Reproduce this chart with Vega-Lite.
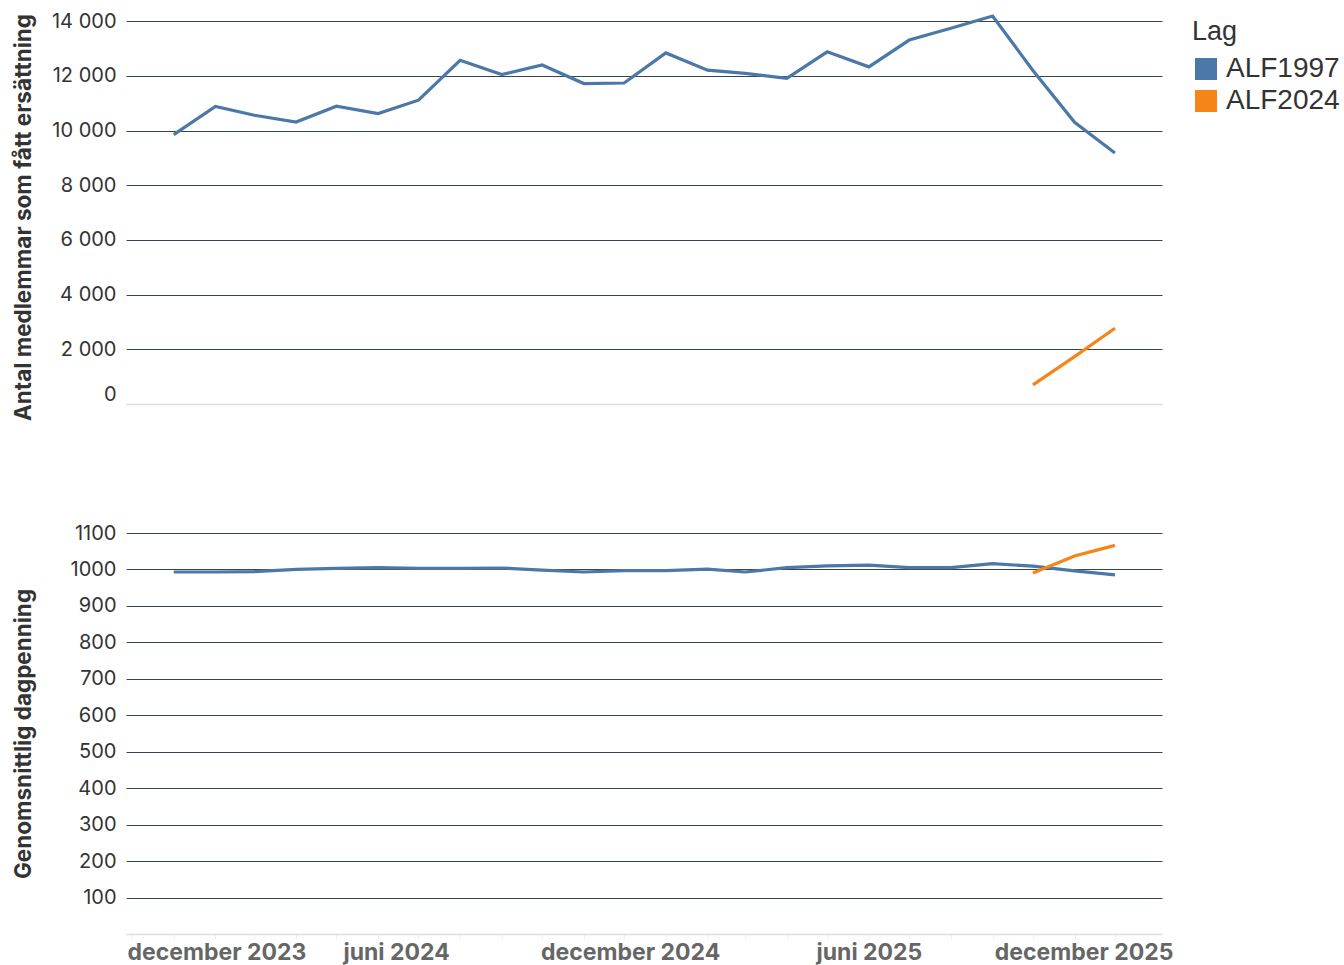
{
  "$schema": "https://vega.github.io/schema/vega-lite/v6.json",
  "background": "white",
  "padding": {"left": 12, "top": 9, "right": 4, "bottom": 3},
  "spacing": 102,
  "data": {
    "values": [
      {"month": "2024-01-01T00:00:00", "lag": "ALF1997", "antal": 9850, "dagpenning": 993},
      {"month": "2024-02-01T00:00:00", "lag": "ALF1997", "antal": 10880, "dagpenning": 993},
      {"month": "2024-03-01T00:00:00", "lag": "ALF1997", "antal": 10560, "dagpenning": 994},
      {"month": "2024-04-01T00:00:00", "lag": "ALF1997", "antal": 10310, "dagpenning": 1000},
      {"month": "2024-05-01T00:00:00", "lag": "ALF1997", "antal": 10890, "dagpenning": 1003},
      {"month": "2024-06-01T00:00:00", "lag": "ALF1997", "antal": 10620, "dagpenning": 1005},
      {"month": "2024-07-01T00:00:00", "lag": "ALF1997", "antal": 11110, "dagpenning": 1003},
      {"month": "2024-08-01T00:00:00", "lag": "ALF1997", "antal": 12570, "dagpenning": 1003},
      {"month": "2024-09-01T00:00:00", "lag": "ALF1997", "antal": 12050, "dagpenning": 1004},
      {"month": "2024-10-01T00:00:00", "lag": "ALF1997", "antal": 12400, "dagpenning": 998},
      {"month": "2024-11-01T00:00:00", "lag": "ALF1997", "antal": 11720, "dagpenning": 993},
      {"month": "2024-12-01T00:00:00", "lag": "ALF1997", "antal": 11740, "dagpenning": 997},
      {"month": "2025-01-01T00:00:00", "lag": "ALF1997", "antal": 12840, "dagpenning": 997},
      {"month": "2025-02-01T00:00:00", "lag": "ALF1997", "antal": 12210, "dagpenning": 1001},
      {"month": "2025-03-01T00:00:00", "lag": "ALF1997", "antal": 12090, "dagpenning": 993},
      {"month": "2025-04-01T00:00:00", "lag": "ALF1997", "antal": 11910, "dagpenning": 1005},
      {"month": "2025-05-01T00:00:00", "lag": "ALF1997", "antal": 12880, "dagpenning": 1010},
      {"month": "2025-06-01T00:00:00", "lag": "ALF1997", "antal": 12330, "dagpenning": 1012},
      {"month": "2025-07-01T00:00:00", "lag": "ALF1997", "antal": 13310, "dagpenning": 1005},
      {"month": "2025-08-01T00:00:00", "lag": "ALF1997", "antal": 13740, "dagpenning": 1005},
      {"month": "2025-09-01T00:00:00", "lag": "ALF1997", "antal": 14190, "dagpenning": 1016},
      {"month": "2025-10-01T00:00:00", "lag": "ALF1997", "antal": 12200, "dagpenning": 1009},
      {"month": "2025-11-01T00:00:00", "lag": "ALF1997", "antal": 10300, "dagpenning": 996},
      {"month": "2025-12-01T00:00:00", "lag": "ALF1997", "antal": 9180, "dagpenning": 985},
      {"month": "2025-10-01T00:00:00", "lag": "ALF2024", "antal": 700, "dagpenning": 990},
      {"month": "2025-11-01T00:00:00", "lag": "ALF2024", "antal": 1730, "dagpenning": 1037},
      {"month": "2025-12-01T00:00:00", "lag": "ALF2024", "antal": 2770, "dagpenning": 1066}
    ]
  },
  "config": {
    "locale": {"number": {"decimal": ",", "thousands": "\u00a0", "grouping": [3], "currency": ["", " kr"]}},
    "view": {"stroke": null},
    "axis": {"labelFont": "Inter", "titleFont": "Inter"},
    "axisY": {
      "labelFontSize": 20, "labelColor": "#333333", "labelPadding": 10,
      "titleFontSize": 22.5, "titleFontWeight": "bold", "titleColor": "#333333",
      "ticks": false, "domain": false, "minExtent": 70, "maxExtent": 70, "titlePadding": 21,
      "gridWidth": 1
    },
    "legend": {
      "titleFont": "Liberation Sans", "titleFontSize": 27, "titleFontWeight": "normal", "titleColor": "#333333",
      "labelFont": "Liberation Sans", "labelFontSize": 28, "labelColor": "#333333",
      "symbolType": "square", "symbolSize": 484, "symbolStrokeWidth": 0,
      "rowPadding": 4, "offset": 16, "padding": 3, "titlePadding": 9, "labelOffset": 6
    }
  },
  "vconcat": [
    {
      "width": 1036,
      "height": 388,
      "mark": {"type": "line", "strokeWidth": 3.2},
      "encoding": {
        "x": {
          "field": "month", "type": "temporal",
          "scale": {"domain": [{"year": 2023, "month": 11, "date": 26, "hours": 12}, {"year": 2026, "month": 1, "date": 5}], "nice": false},
          "axis": {"title": null, "labels": false, "ticks": false, "grid": false, "domain": true, "domainColor": "#dddddd", "domainWidth": 1.5}
        },
        "y": {
          "field": "antal", "type": "quantitative",
          "scale": {"zero": true, "nice": false},
          "axis": {
            "title": "Antal medlemmar som fått ersättning",
            "titleY": 201,
            "values": [0, 2000, 4000, 6000, 8000, 10000, 12000, 14000],
            "format": ",d",
            "labelFlush": true,
            "gridColor": {"condition": {"test": "datum.value === 0", "value": "#dddddd"}, "value": "#37444c"}
          }
        },
        "color": {
          "field": "lag", "type": "nominal", "title": "Lag",
          "scale": {"domain": ["ALF1997", "ALF2024"], "range": ["#4c78a8", "#f58518"]},
          "legend": {"encode": {"symbols": {"update": {"fill": {"scale": "color", "field": "value"}, "fillOpacity": {"value": 1}, "strokeWidth": {"value": 0}}}}}
        }
      }
    },
    {
      "width": 1036,
      "height": 401,
      "mark": {"type": "line", "strokeWidth": 3.2},
      "encoding": {
        "x": {
          "field": "month", "type": "temporal",
          "scale": {"domain": [{"year": 2023, "month": 11, "date": 26, "hours": 12}, {"year": 2026, "month": 1, "date": 5}], "nice": false},
          "axis": {
            "title": null,
            "values": [
              {"year": 2023, "month": 12, "date": 1},
              {"year": 2024, "month": 1, "date": 1}, {"year": 2024, "month": 2, "date": 1}, {"year": 2024, "month": 3, "date": 1},
              {"year": 2024, "month": 4, "date": 1}, {"year": 2024, "month": 5, "date": 1}, {"year": 2024, "month": 6, "date": 1},
              {"year": 2024, "month": 7, "date": 1}, {"year": 2024, "month": 8, "date": 1}, {"year": 2024, "month": 9, "date": 1},
              {"year": 2024, "month": 10, "date": 1}, {"year": 2024, "month": 11, "date": 1}, {"year": 2024, "month": 12, "date": 1},
              {"year": 2025, "month": 1, "date": 1}, {"year": 2025, "month": 2, "date": 1}, {"year": 2025, "month": 3, "date": 1},
              {"year": 2025, "month": 4, "date": 1}, {"year": 2025, "month": 5, "date": 1}, {"year": 2025, "month": 6, "date": 1},
              {"year": 2025, "month": 7, "date": 1}, {"year": 2025, "month": 8, "date": 1}, {"year": 2025, "month": 9, "date": 1},
              {"year": 2025, "month": 10, "date": 1}, {"year": 2025, "month": 11, "date": 1}, {"year": 2025, "month": 12, "date": 1}
            ],
            "labelExpr": "month(datum.value) == 11 ? 'december ' + year(datum.value) : (month(datum.value) == 5 ? 'juni ' + year(datum.value) : '')",
            "grid": false,
            "domainColor": "#dddddd", "domainWidth": 1.5,
            "tickColor": "#eeeeee", "tickSize": 5,
            "labelFontSize": 23, "labelFontWeight": "bold", "labelColor": "#666666",
            "labelPadding": 2, "labelOverlap": false, "labelBound": false, "labelFlush": false,
            "labelAlign": {"condition": [
              {"test": "month(datum.value) == 11 && year(datum.value) == 2023", "value": "left"},
              {"test": "month(datum.value) == 11 && year(datum.value) == 2025", "value": "right"}
            ], "value": "center"},
            "labelOffset": {"condition": [
              {"test": "month(datum.value) == 11 && year(datum.value) == 2023", "value": -5},
              {"test": "month(datum.value) == 5 && year(datum.value) == 2024", "value": 18},
              {"test": "month(datum.value) == 11 && year(datum.value) == 2024", "value": 6},
              {"test": "month(datum.value) == 11 && year(datum.value) == 2025", "value": 58}
            ], "value": 0}
          }
        },
        "y": {
          "field": "dagpenning", "type": "quantitative",
          "scale": {"domain": [0, 1100], "nice": false},
          "axis": {
            "title": "Genomsnittlig dagpenning",
            "values": [100, 200, 300, 400, 500, 600, 700, 800, 900, 1000, 1100],
            "format": "d",
            "gridColor": "#37444c"
          }
        },
        "color": {
          "field": "lag", "type": "nominal", "title": "Lag",
          "scale": {"domain": ["ALF1997", "ALF2024"], "range": ["#4c78a8", "#f58518"]}
        }
      }
    }
  ]
}
